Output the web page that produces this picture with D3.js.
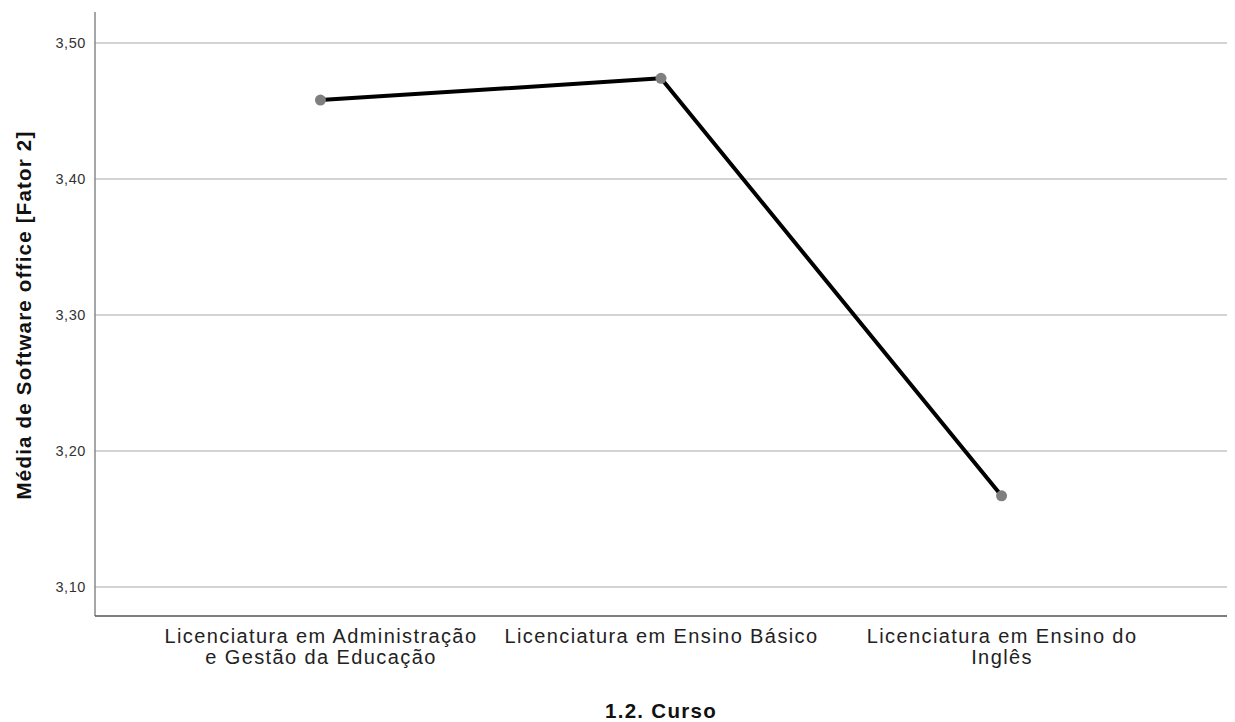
<!DOCTYPE html>
<html><head><meta charset="utf-8">
<script src="https://cdn.jsdelivr.net/npm/d3@7"></script>
<style>body{margin:0;background:#fff;}svg{display:block;}</style>
</head><body>
<script>
const categories = [
  ["Licenciatura em Administração", "e Gestão da Educação"],
  ["Licenciatura em Ensino Básico"],
  ["Licenciatura em Ensino do", "Inglês"]
];
const values = [3.458, 3.474, 3.167];
const yTicks = [3.10, 3.20, 3.30, 3.40, 3.50];
const xTitle = "1.2. Curso";
const yTitle = "Média de Software office [Fator 2]";

(function () {
const W = 1235, H = 722;
const mLeft = 95, mRight = 1227, mTop = 12, mBottom = 616;
const svg = d3.select("body").append("svg").attr("width", W).attr("height", H);
const font = "'Liberation Sans', Arial, sans-serif";
const catKeys = categories.map(c => c.join(" "));

const x = d3.scalePoint().domain(catKeys).range([mLeft, mRight]).padding(0.662);
const y = d3.scaleLinear().domain([3.0786, 3.5228]).range([mBottom, mTop]);

// gridlines
svg.append("g").selectAll("line").data(yTicks).join("line")
  .attr("x1", mLeft).attr("x2", mRight)
  .attr("y1", d => y(d)).attr("y2", d => y(d))
  .attr("stroke", "#c4c4c4").attr("stroke-width", 1.5);

// y axis
const yAxis = svg.append("g").attr("transform", `translate(${mLeft},0)`)
  .call(d3.axisLeft(y).tickValues(yTicks).tickSize(0).tickPadding(9)
    .tickFormat(d => d3.format(".2f")(d).replace(".", ",")));
yAxis.select(".domain").remove();
yAxis.selectAll("text").attr("font-family", font).attr("font-size", 14.5)
  .attr("letter-spacing", 0.6).attr("fill", "#333");

// axis lines
svg.append("line").attr("x1", mLeft).attr("x2", mLeft).attr("y1", mTop).attr("y2", mBottom)
  .attr("stroke", "#888").attr("stroke-width", 1.5);
svg.append("line").attr("x1", mLeft).attr("x2", mRight).attr("y1", mBottom).attr("y2", mBottom)
  .attr("stroke", "#555").attr("stroke-width", 1.3);

// x category labels
const xAxis = svg.append("g").attr("transform", `translate(0,${mBottom})`)
  .call(d3.axisBottom(x).tickSize(0).tickFormat(""));
xAxis.select(".domain").remove();
xAxis.selectAll(".tick").each(function(d, i) {
  const t = d3.select(this).append("text")
    .attr("font-family", font).attr("font-size", 20).attr("letter-spacing", 1.4)
    .attr("fill", "#222").attr("text-anchor", "middle");
  categories[i].forEach((ln, j) => {
    t.append("tspan").attr("x", 0).attr("y", 27 + j * 21).text(ln);
  });
});

// line
const line = d3.line().x((d, i) => x(catKeys[i])).y(d => y(d));
svg.append("path").datum(values).attr("d", line)
  .attr("fill", "none").attr("stroke", "#000").attr("stroke-width", 4)
  .attr("stroke-linejoin", "round");
svg.append("g").selectAll("circle").data(values).join("circle")
  .attr("cx", (d, i) => x(catKeys[i])).attr("cy", d => y(d)).attr("r", 5.5)
  .attr("fill", "#7f7f7f");

// titles
svg.append("text").attr("x", x(catKeys[1])).attr("y", 718)
  .attr("text-anchor", "middle").attr("font-family", font).attr("font-weight", "bold")
  .attr("font-size", 20.5).attr("letter-spacing", 1.3).attr("fill", "#111").text(xTitle);
svg.append("text").attr("transform", `translate(31,315) rotate(-90)`)
  .attr("text-anchor", "middle").attr("font-family", font).attr("font-weight", "bold")
  .attr("font-size", 20.5).attr("letter-spacing", 1.2).attr("fill", "#111").text(yTitle);
})();
</script>
</body></html>
